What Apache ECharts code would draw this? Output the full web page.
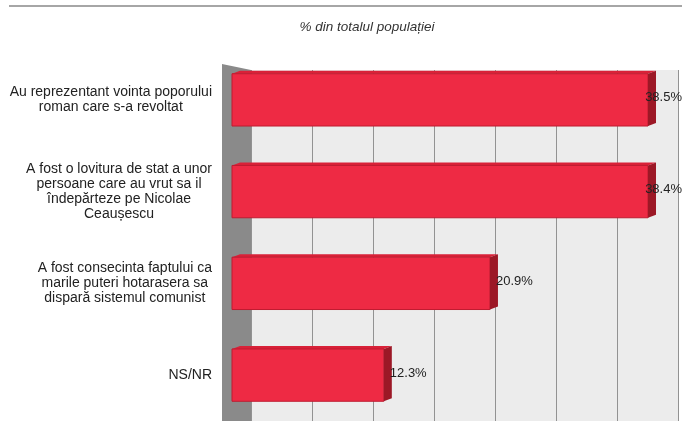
<!DOCTYPE html>
<html>
<head>
<meta charset="utf-8">
<script src="https://cdn.jsdelivr.net/npm/echarts@6/dist/echarts.min.js"></script>
<style>
  html, body { margin: 0; padding: 0; background: #fff; }
  #chart { width: 682px; height: 421px; }
</style>
</head>
<body>
<div id="chart"></div>
<script>
  const categories = [
    'Au reprezentant vointa poporului\nroman care s-a revoltat',
    'A fost o lovitura de stat a unor\npersoane care au vrut sa il\nîndepărteze pe Nicolae\nCeaușescu',
    'A fost consecinta faptului ca\nmarile puteri hotarasera sa\ndispară sistemul comunist',
    'NS/NR'
  ];
  const values = [38.5, 38.4, 20.9, 12.3];
  const axisMax = 35;
  const axisStep = 5;
  const titleText = '% din totalul populației';

  const font = '"Liberation Sans", Arial, sans-serif';
  const chart = echarts.init(document.getElementById('chart'));

  // bar with a little 3d side and top face
  function renderBar(params, api) {
    const v = api.value(0);
    const idx = api.value(1);
    const start = api.coord([0, idx]);
    const end = api.coord([v, idx]);
    const h = api.size([0, 1])[1] * 0.57;
    const cs = params.coordSys;
    const limit = cs.x + cs.width - 16;
    const x0 = start[0];
    const x1 = Math.min(end[0], limit);
    const y0 = start[1] - h / 2;
    const dx = 8, dy = 3;
    const clipped = end[0] > limit;
    return {
      type: 'group',
      children: [
        {
          type: 'polygon',
          shape: { points: [[x0, y0], [x0 + dx, y0 - dy], [x1 + dx, y0 - dy], [x1, y0]] },
          style: { fill: '#d92138' }
        },
        {
          type: 'rect',
          shape: { x: x0, y: y0, width: x1 - x0, height: h },
          style: { fill: '#ee2a44', stroke: '#bf1b30', lineWidth: 1 }
        },
        {
          type: 'polygon',
          shape: { points: [[x1, y0], [x1 + dx, y0 - dy], [x1 + dx, y0 + h - dy], [x1, y0 + h]] },
          style: { fill: '#9c1826' }
        },
        {
          type: 'text',
          style: {
            text: v.toFixed(1) + '%',
            x: clipped ? 682 : x1 + dx - 2,
            y: start[1] - 2,
            align: clipped ? 'right' : 'left',
            verticalAlign: 'middle',
            fill: '#222',
            font: '13px ' + font
          }
        }
      ]
    };
  }

  chart.setOption({
    animation: false,
    title: {
      text: titleText,
      left: 362,
      top: 15,
      textAlign: 'center',
      textStyle: { fontSize: 13.5, fontStyle: 'italic', fontWeight: 'normal', color: '#333', fontFamily: font }
    },
    graphic: [
      {
        type: 'line',
        shape: { x1: 9, y1: 6, x2: 682, y2: 6 },
        style: { stroke: '#a6a6a6', lineWidth: 2 },
        z: 1
      },
      {
        type: 'polygon',
        shape: { points: [[222, 64], [251, 70], [251, 421], [222, 421]] },
        style: { fill: '#8a8a8a' },
        z: 1
      }
    ],
    grid: [
      { left: 251, top: 70, width: 427, bottom: 0, show: true, backgroundColor: '#ececec', borderWidth: 0 },
      { left: 232, top: 54, width: 432, height: 372 }
    ],
    xAxis: [
      {
        gridIndex: 0, type: 'value', min: 0, max: axisMax, interval: axisStep,
        axisLine: { show: false }, axisTick: { show: false }, axisLabel: { show: false },
        splitLine: { show: true, lineStyle: { color: '#929292', width: 1 } }
      },
      {
        gridIndex: 1, type: 'value', min: 0, max: axisMax, show: false,
        splitLine: { show: false }
      }
    ],
    yAxis: [
      { gridIndex: 0, type: 'category', data: categories, show: false },
      {
        gridIndex: 1, type: 'category', data: categories, inverse: true,
        axisLine: { show: false }, axisTick: { show: false },
        axisLabel: {
          align: 'right',
          margin: 20,
          formatter: v => '{c|' + v + '}',
          rich: {
            c: { align: 'center', fontSize: 14, lineHeight: 15, color: '#222', fontFamily: font }
          }
        }
      }
    ],
    series: [
      {
        type: 'custom',
        xAxisIndex: 1,
        yAxisIndex: 1,
        clip: false,
        z: 3,
        renderItem: renderBar,
        encode: { x: 0, y: 1 },
        data: values.map((v, i) => [v, i])
      }
    ]
  });
</script>
</body>
</html>
